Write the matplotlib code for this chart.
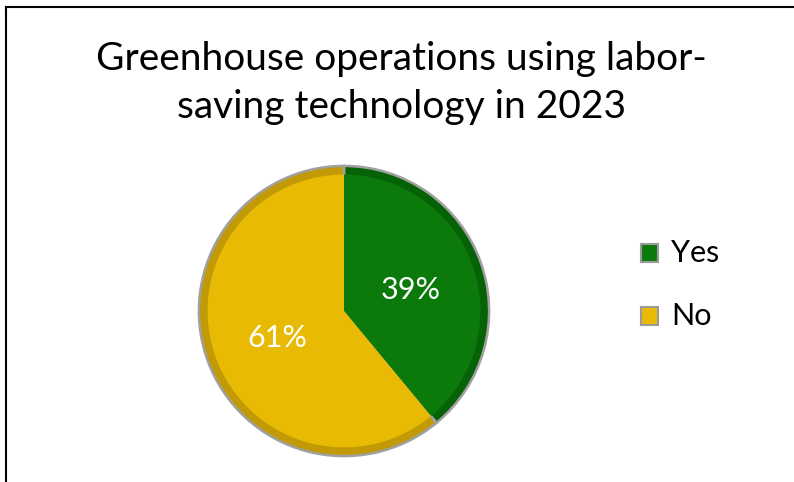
import numpy as np
import matplotlib.pyplot as plt
from matplotlib.lines import Line2D
from matplotlib.patches import Rectangle

categories = ["Yes", "No"]
values = [39, 61]
labels = ["39%", "61%"]
title = "Greenhouse operations using labor-\nsaving technology in 2023"

main_colors = ["#0B7A0B", "#E9BA04"]
dark_colors = ["#066206", "#C29A05"]

plt.rcParams['font.family'] = ['Lato', 'DejaVu Sans']

fig = plt.figure(figsize=(7.94, 4.82), dpi=100)
fig.patch.set_facecolor('white')

# border lines (top and left visible)
fig.add_artist(Line2D([6/794, 1], [1 - 7/482, 1 - 7/482], transform=fig.transFigure, color='black', lw=1.5))
fig.add_artist(Line2D([6/794, 6/794], [0, 1 - 7/482], transform=fig.transFigure, color='black', lw=1.5))

fig.text(401/794, 1 - 83/482, title, ha='center', va='center', fontsize=28, linespacing=1.38)

cx, cy, r = 344, 311, 148
ax = fig.add_axes([(cx - r)/794, 1 - (cy + r)/482, 2*r/794, 2*r/482])
ax.set_aspect('equal')
ax.axis('off')

# outer shading (bevel)
ax.pie(values, colors=dark_colors, startangle=90, counterclock=False, radius=1.0,
       wedgeprops=dict(edgecolor='#A0A0A0', linewidth=1.8))
wedges, texts = ax.pie(values, colors=main_colors, startangle=90, counterclock=False, radius=0.94,
                       wedgeprops=dict(edgecolor='none', linewidth=0))
for w, lab in zip(wedges, labels):
    ang = np.deg2rad((w.theta1 + w.theta2) / 2)
    ax.text(0.49*np.cos(ang), 0.49*np.sin(ang) - 0.02, lab, ha='center', va='center',
            color='white', fontsize=22)
ax.set_xlim(-1.02, 1.02)
ax.set_ylim(-1.02, 1.02)

# legend
leg_y = [253, 316]
for name, mc, dc, y in zip(categories, main_colors, dark_colors, leg_y):
    fig.add_artist(Rectangle((641/794, 1 - (y + 9)/482), 17/794, 18/482,
                             transform=fig.transFigure, facecolor=mc, edgecolor='#9A9A9A', lw=1.5))
    fig.text(671/794, 1 - y/482, name, ha='left', va='center', fontsize=22)

fig.savefig('out.png', dpi=100, facecolor='white')
